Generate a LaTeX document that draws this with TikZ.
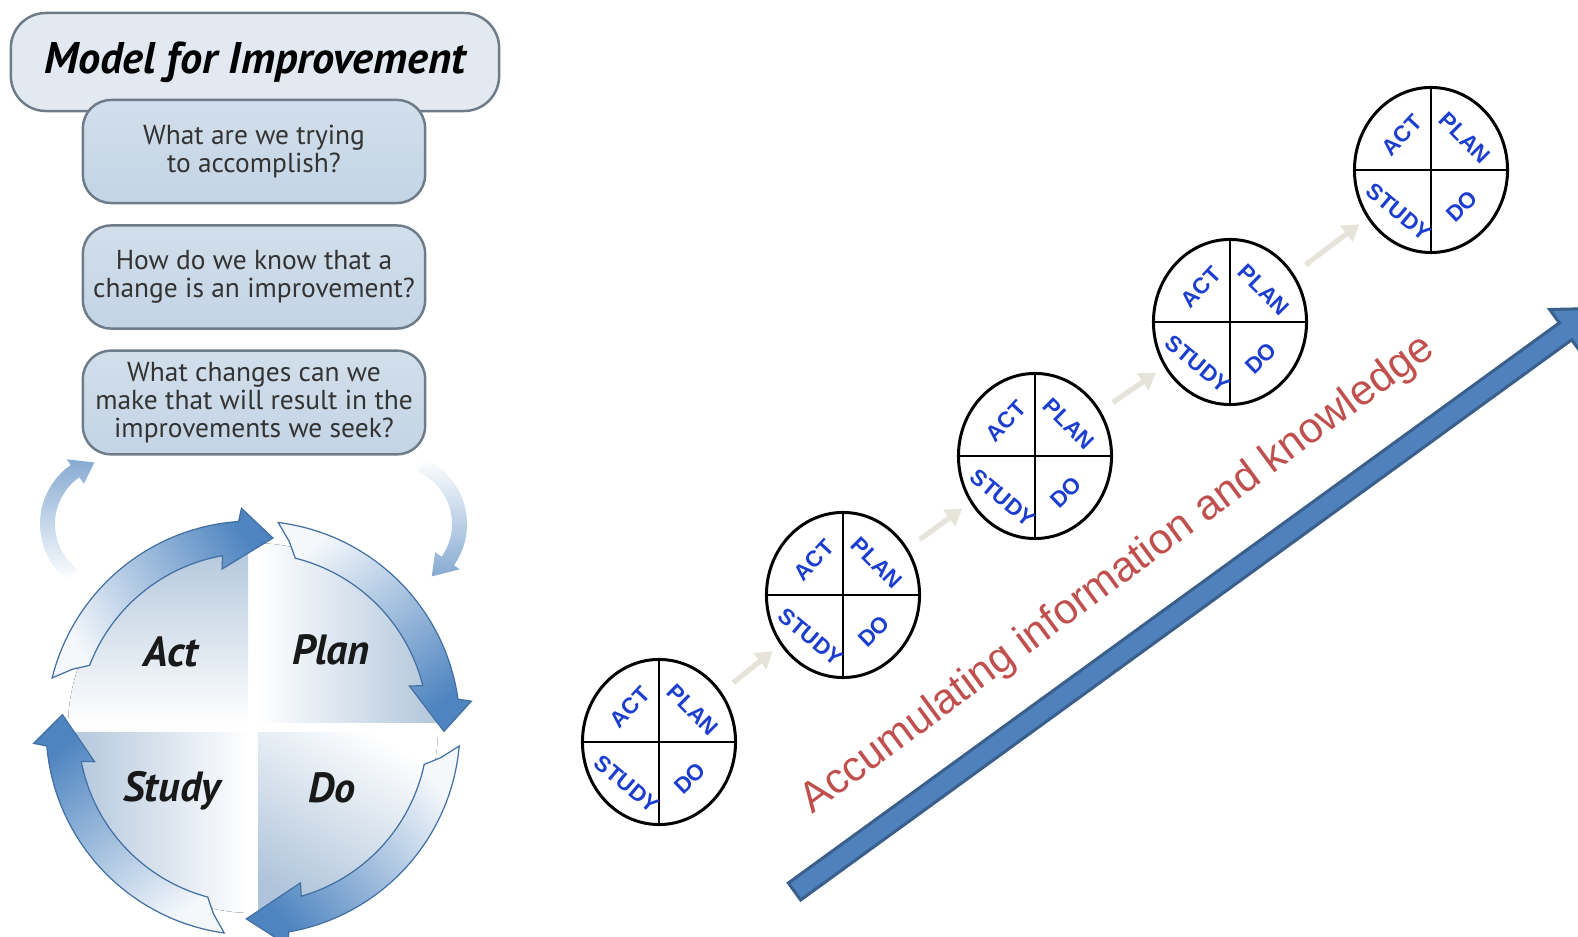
\documentclass[tikz,border=0pt]{standalone}
\usepackage{fontspec}
\setmainfont{Liberation Sans}
\newfontfamily\ptsans{PT Sans}
\usetikzlibrary{shapes.geometric, positioning, arrows.meta, calc}

\definecolor{boxedge}{HTML}{6E7B88}
\definecolor{titlefill}{HTML}{E2E9F1}
\definecolor{qfill}{HTML}{C3D4E5}
\definecolor{cycleblue}{HTML}{4E84C0}
\definecolor{quadblue}{HTML}{AFC4DA}
\definecolor{fadeblue}{HTML}{86AAD2}
\definecolor{pdsablue}{HTML}{1C3ECF}
\definecolor{stepgrey}{HTML}{E6E4DA}
\definecolor{arrowfill}{HTML}{4F81BD}
\definecolor{arrowedge}{HTML}{3A5F8B}
\definecolor{knowred}{HTML}{C0504D}

\begin{document}
\begin{tikzpicture}[
    x=0.01cm, y=0.01cm,
    titlebox/.style={draw=boxedge, line width=0.7pt, rounded corners=0.35cm, fill=titlefill, minimum width=4.88cm, minimum height=0.98cm, font=\ptsans\bfseries\itshape\fontsize{12.6}{14}\selectfont},
    question/.style={draw=boxedge, line width=0.7pt, rounded corners=0.28cm, top color=qfill!75!white, bottom color=qfill, minimum width=3.42cm, minimum height=1.03cm, inner xsep=0pt, align=center, text=black!80, font=\ptsans\fontsize{7.8}{7.9}\selectfont},
    quadlabel/.style={anchor=base, inner sep=0pt, text=black!90, font=\ptsans\bfseries\itshape\fontsize{12}{13}\selectfont},
    ringarrow/.style={draw=cycleblue!85!black, line width=0.35pt, top color=cycleblue, middle color=cycleblue!62!white, bottom color=cycleblue!6!white},
    fadearrow/.style={draw=none},
    pdsa/.style={draw, ellipse, line width=0.85pt, minimum width=1.53cm, minimum height=1.65cm, inner sep=0pt,
        path picture={\draw[line width=0.75pt] (path picture bounding box.north) -- (path picture bounding box.south)
            (path picture bounding box.west) -- (path picture bounding box.east);}},
    pdsalabel/.style={inner sep=0pt, text=pdsablue, font=\bfseries\fontsize{6.4}{7}\selectfont},
    climb/.style={draw=stepgrey, line width=1.5pt, -{Triangle[width=5.6pt, length=4.6pt]}, shorten <=4.2pt, shorten >=2.8pt},
    bigarrow/.style={fill=arrowfill, draw=arrowedge, line width=0.85pt, line join=miter},
    knowledge/.style={anchor=base west, rotate=36.5, inner sep=0pt, text=knowred, font=\fontsize{12.1}{14}\selectfont}
]
    \useasboundingbox (0,0) rectangle (1578,-937);
    \clip (0,0) rectangle (1578,-937);

    % ================= MODEL FOR IMPROVEMENT =================
    \node[titlebox] (title) at (255,-62) {Model for Improvement};
    \node[question] (aim) at (254,-151.5) {What are we trying\\to accomplish?};
    \node[question] (measure) at (254,-277) {How do we know that a\\change is an improvement?};
    \node[question] (change) at (254,-402.5) {What changes can we\\make that will result in the\\improvements we seek?};

    % faded loop arrows beside the cycle
    \begin{scope}[shift={(112,-524)}]
        \path[fadearrow, top color=fadeblue, bottom color=white]
            (232:72) arc[start angle=232, end angle=125, radius=72] -- (125:79) -- (106:64)
            -- (125:49) -- (125:57) arc[start angle=125, end angle=232, radius=57] -- cycle;
    \end{scope}
    \begin{scope}[shift={(395,-524)}]
        \path[fadearrow, top color=white, bottom color=fadeblue]
            (66:72) arc[start angle=66, end angle=-35, radius=72] -- (-35:79) -- (-55:64)
            -- (-35:49) -- (-35:57) arc[start angle=-35, end angle=66, radius=57] -- cycle;
    \end{scope}

    % ================= PDSA WHEEL =================
    \begin{scope}[shift={(253,-728)}]
        % quadrants
        \begin{scope}
            \clip (0,0) circle[radius=185];
            \fill[top color=quadblue, bottom color=white] (-190,5) rectangle (-5,190);
            \fill[left color=white, right color=quadblue] (5,5) rectangle (190,190);
            \fill[left color=quadblue, right color=white] (-190,-5) rectangle (-5,-190);
            \fill[top color=white, bottom color=quadblue, shading angle=-30] (5,-5) rectangle (190,-190);
        \end{scope}

        % Act -> Plan
        \path[ringarrow, shading angle=-60]
            (166:207) arc[start angle=166, end angle=94, radius=207] -- (93:220) -- (84:191)
            -- (101:162) -- (100:175) arc[start angle=100, end angle=159, radius=175] -- (162:190) -- cycle;
        % Plan -> Do
        \path[ringarrow, shading angle=-142]
            (83:207) arc[start angle=83, end angle=8, radius=207] -- (7:220) -- (-1:191)
            -- (15:162) -- (14:175) arc[start angle=14, end angle=76, radius=175] -- (79:190) -- cycle;
        % Do -> Study
        \path[ringarrow, shading angle=130]
            (-5:207) arc[start angle=-5, end angle=-80, radius=207] -- (-81:220) -- (-92:191)
            -- (-73:162) -- (-74:175) arc[start angle=-74, end angle=-12, radius=175] -- (-9:190) -- cycle;
        % Study -> Act
        \path[ringarrow, shading angle=37]
            (262:207) arc[start angle=262, end angle=185, radius=207] -- (184:220) -- (176:191)
            -- (192:162) -- (191:175) arc[start angle=191, end angle=255, radius=175] -- (258:190) -- cycle;
    \end{scope}

    \node[quadlabel] (act) at (171,-667) {Act};
    \node[quadlabel] (plan) at (331,-665) {Plan};
    \node[quadlabel] (study) at (172,-801) {Study};
    \node[quadlabel] (do) at (332,-802) {Do};

    % ================= ACCUMULATING ARROW =================
    \begin{scope}[shift={(794.5,-891.5)}, rotate=36]
        \draw[bigarrow] (0,10.5) -- (953,10.5) -- (953,27) -- (992,0) -- (953,-27) -- (953,-10.5) -- (0,-10.5) -- cycle;
    \end{scope}

    \node[knowledge] (know) at (812,-815) {Accumulating information and knowledge};

    % ================= PDSA CYCLES =================
    \node[pdsa] (cycle1) at (659,-742) {};
    \node[pdsa] (cycle2) at (843,-595) {};
    \node[pdsa] (cycle3) at (1035,-456) {};
    \node[pdsa] (cycle4) at (1230,-322) {};
    \node[pdsa] (cycle5) at (1431,-170) {};

    % cycle 1
    \node[pdsalabel, rotate=47] (act1) at ([shift={(-29,35)}]cycle1) {ACT};
    \node[pdsalabel, rotate=-45] (plan1) at ([shift={(34,32)}]cycle1) {PLAN};
    \node[pdsalabel, rotate=-40] (study1) at ([shift={(-32,-42)}]cycle1) {STUDY};
    \node[pdsalabel, rotate=44] (do1) at ([shift={(31,-36)}]cycle1) {DO};

    % cycle 2
    \node[pdsalabel, rotate=47] (act2) at ([shift={(-29,35)}]cycle2) {ACT};
    \node[pdsalabel, rotate=-45] (plan2) at ([shift={(34,32)}]cycle2) {PLAN};
    \node[pdsalabel, rotate=-40] (study2) at ([shift={(-32,-42)}]cycle2) {STUDY};
    \node[pdsalabel, rotate=44] (do2) at ([shift={(31,-36)}]cycle2) {DO};

    % cycle 3
    \node[pdsalabel, rotate=47] (act3) at ([shift={(-29,35)}]cycle3) {ACT};
    \node[pdsalabel, rotate=-45] (plan3) at ([shift={(34,32)}]cycle3) {PLAN};
    \node[pdsalabel, rotate=-40] (study3) at ([shift={(-32,-42)}]cycle3) {STUDY};
    \node[pdsalabel, rotate=44] (do3) at ([shift={(31,-36)}]cycle3) {DO};

    % cycle 4
    \node[pdsalabel, rotate=47] (act4) at ([shift={(-29,35)}]cycle4) {ACT};
    \node[pdsalabel, rotate=-45] (plan4) at ([shift={(34,32)}]cycle4) {PLAN};
    \node[pdsalabel, rotate=-40] (study4) at ([shift={(-32,-42)}]cycle4) {STUDY};
    \node[pdsalabel, rotate=44] (do4) at ([shift={(31,-36)}]cycle4) {DO};

    % cycle 5
    \node[pdsalabel, rotate=47] (act5) at ([shift={(-29,35)}]cycle5) {ACT};
    \node[pdsalabel, rotate=-45] (plan5) at ([shift={(34,32)}]cycle5) {PLAN};
    \node[pdsalabel, rotate=-40] (study5) at ([shift={(-32,-42)}]cycle5) {STUDY};
    \node[pdsalabel, rotate=44] (do5) at ([shift={(31,-36)}]cycle5) {DO};

    % steps between the cycles
    \draw[climb] (cycle1) -- (cycle2);
    \draw[climb] (cycle2) -- (cycle3);
    \draw[climb] (cycle3) -- (cycle4);
    \draw[climb] (cycle4) -- (cycle5);

\end{tikzpicture}
\end{document}
